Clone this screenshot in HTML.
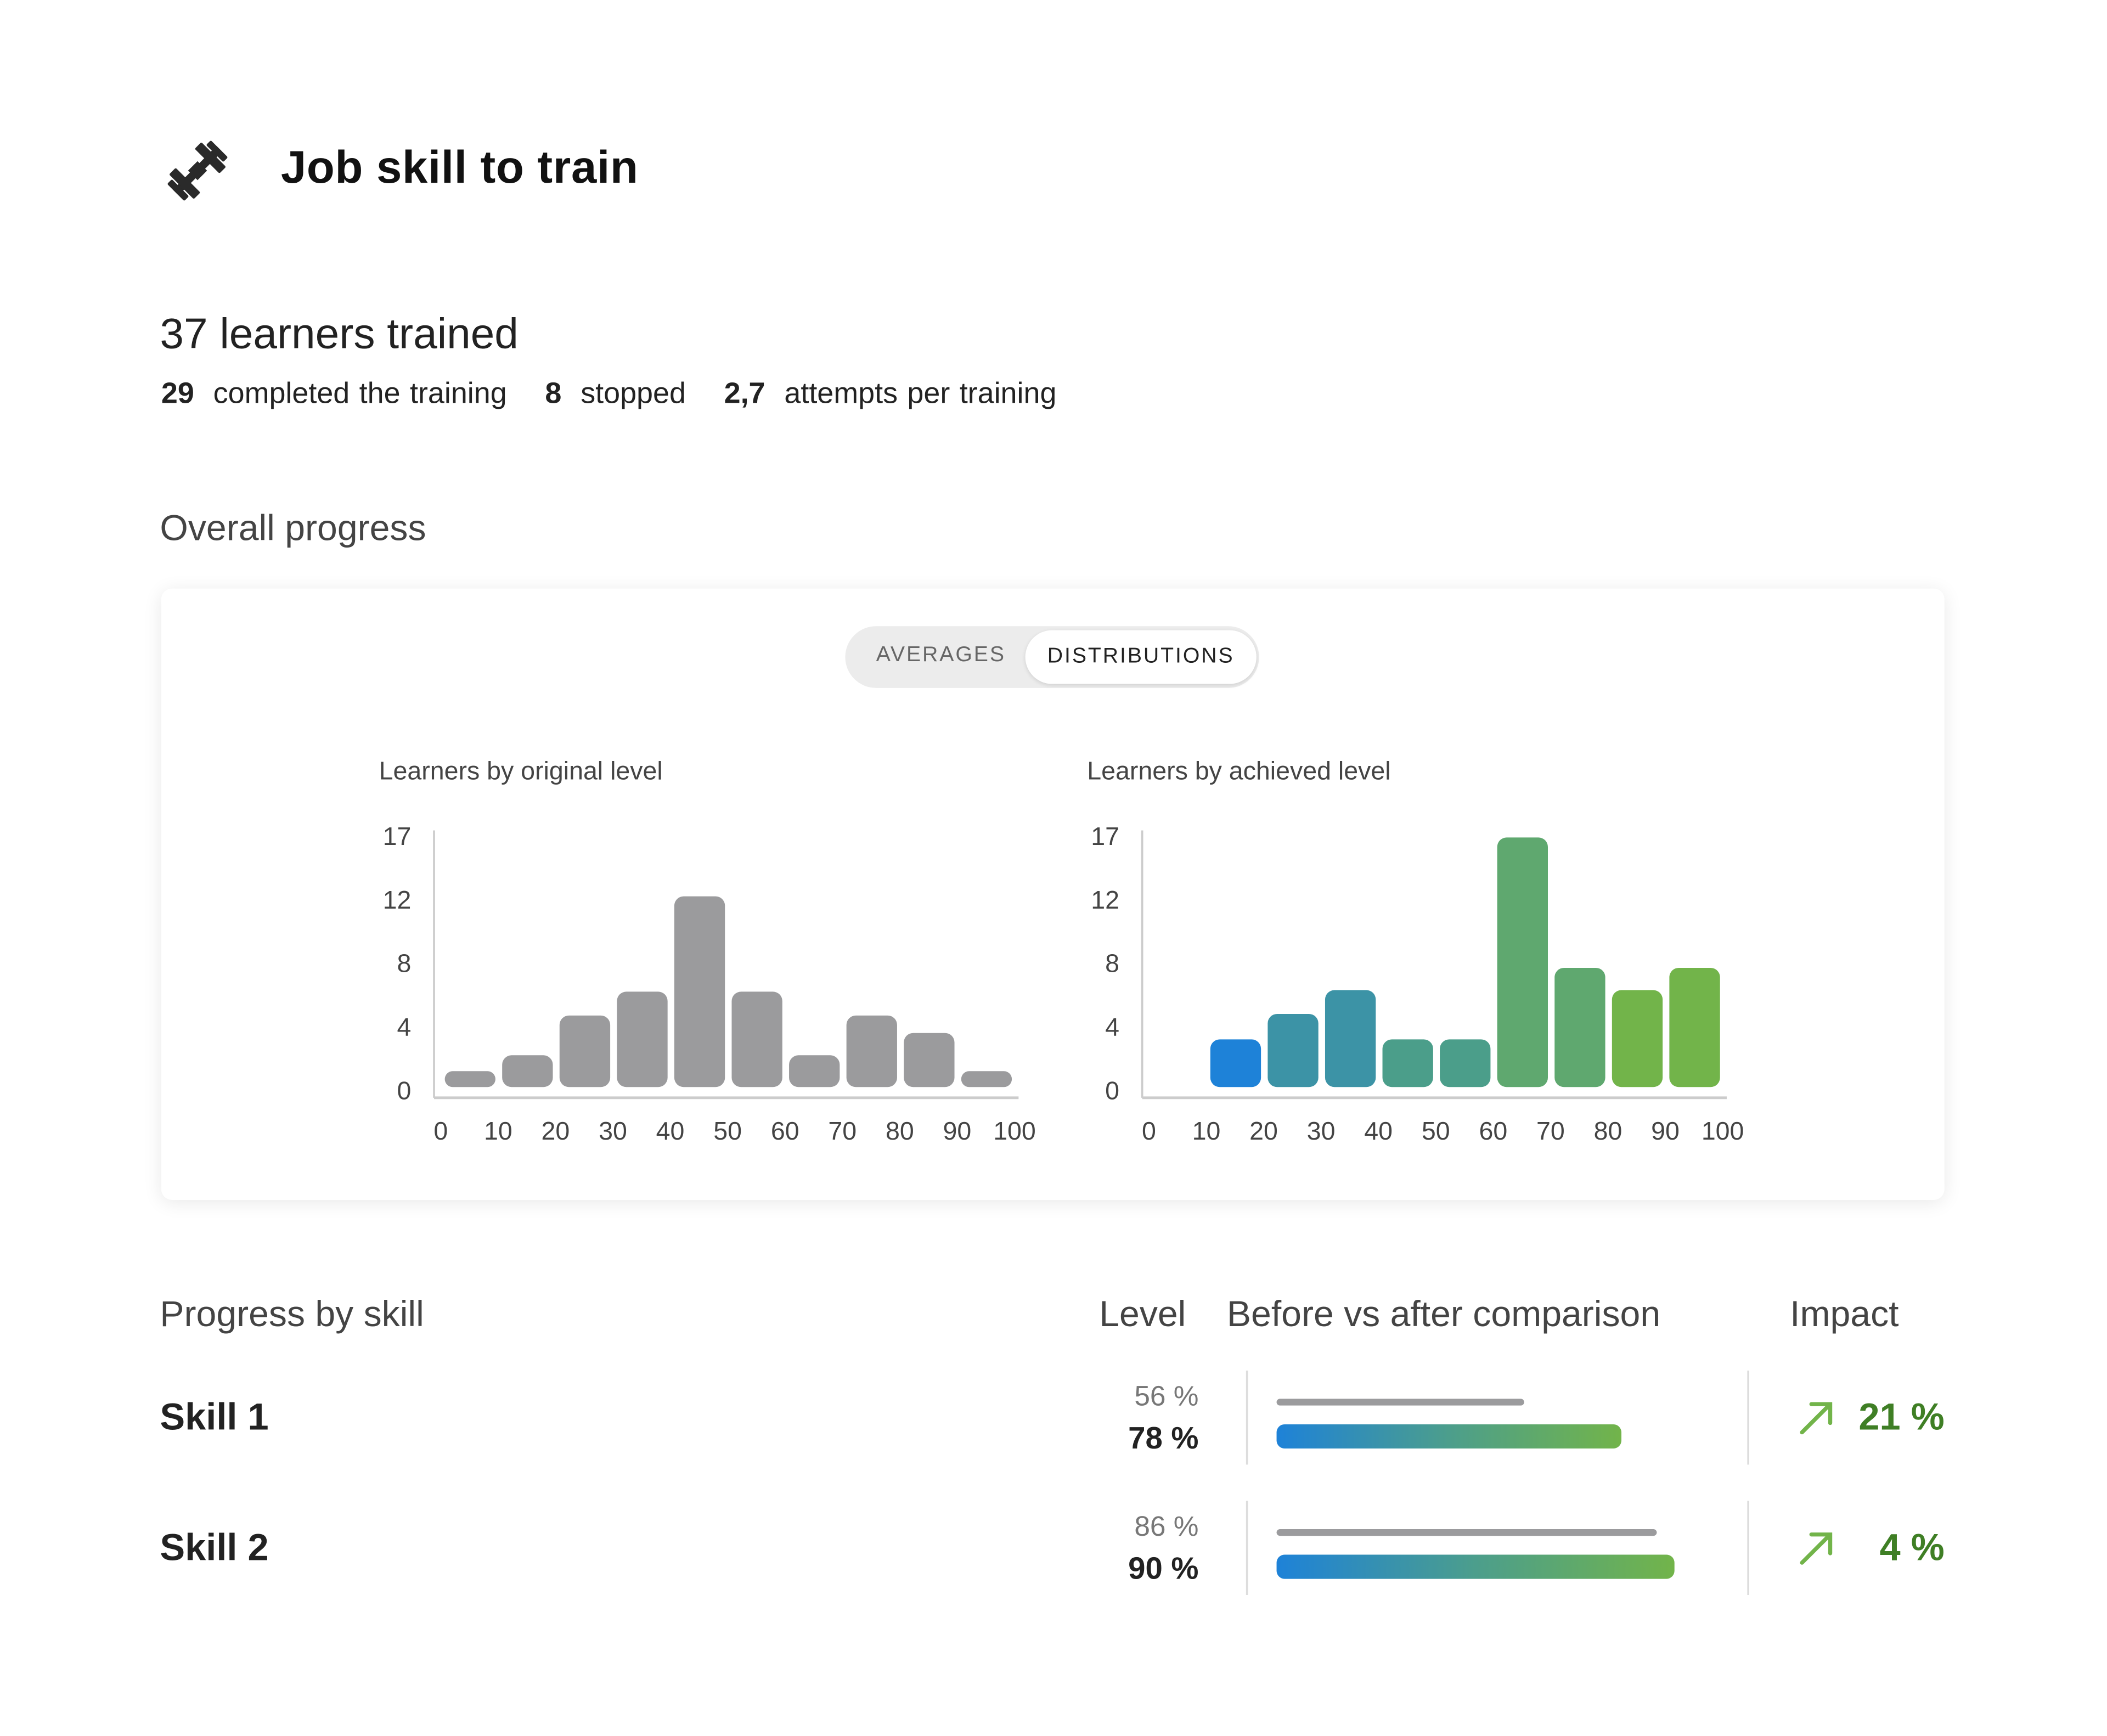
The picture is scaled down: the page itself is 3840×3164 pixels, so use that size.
<!DOCTYPE html>
<html><head><meta charset="utf-8">
<style>
html,body{margin:0;padding:0;background:#fff;width:3840px;height:3162px;overflow:hidden}
#root{position:absolute;left:0;top:0;width:1568px;height:1292px;transform:scale(2.449);transform-origin:0 0;font-family:"Liberation Sans",sans-serif;color:#222}
.abs{position:absolute;white-space:nowrap}
</style></head><body>
<div id="root">
  <svg class="abs" style="left:120px;top:100px" width="54" height="54" viewBox="0 0 54 54">
    <g transform="rotate(-45 27 27)" fill="#2a2a2a">
      <rect x="4" y="24" width="46" height="6"/>
      <rect x="10" y="14" width="7" height="26" rx="1"/>
      <rect x="37" y="14" width="7" height="26" rx="1"/>
      <rect x="4" y="18" width="5" height="18" rx="1"/>
      <rect x="45" y="18" width="5" height="18" rx="1"/>
      <rect x="22" y="22" width="10" height="10"/>
    </g>
  </svg>
  <div class="abs" style="left:209px;top:106px;font-size:34px;font-weight:bold;color:#111;letter-spacing:0.3px">Job skill to train</div>
  <div class="abs" style="left:119px;top:230px;font-size:32px;color:#222">37 learners trained</div>
  <div class="abs" style="left:120px;top:280px;font-size:22px;color:#222;word-spacing:1px"><b>29</b>&nbsp; completed the training &nbsp;&nbsp; <b>8</b>&nbsp; stopped &nbsp;&nbsp; <b>2,7</b>&nbsp; attempts per training</div>
  <div class="abs" style="left:119px;top:378px;font-size:27px;color:#444">Overall progress</div>

  <div class="abs" style="left:120px;top:438px;width:1327px;height:455px;background:#fff;border-radius:8px;box-shadow:0 2px 14px rgba(0,0,0,0.09)"></div>
  <div class="abs" style="left:629px;top:466px;width:308px;height:46px;background:#ececec;border-radius:23px"></div>
  <div class="abs" style="left:652px;top:479px;font-size:16px;letter-spacing:1.2px;color:#666">AVERAGES</div>
  <div class="abs" style="left:763px;top:469px;width:172px;height:40px;background:#fff;border-radius:20px;box-shadow:0 1px 3px rgba(0,0,0,0.12);font-size:16px;letter-spacing:1.2px;color:#222;text-align:center;line-height:40px">DISTRIBUTIONS</div>

  <svg id="charts" class="abs" style="left:0;top:0" width="1568" height="1292"></svg>

  <div class="abs" style="left:119px;top:963px;font-size:27px;color:#444">Progress by skill</div>
  <div class="abs" style="left:818px;top:963px;font-size:27px;color:#444">Level</div>
  <div class="abs" style="left:913px;top:963px;font-size:27px;color:#444">Before vs after comparison</div>
  <div class="abs" style="left:1332px;top:963px;font-size:27px;color:#444">Impact</div>
  <svg id="skills" class="abs" style="left:0;top:0" width="1568" height="1292">
    <defs><linearGradient id="grad" x1="0" x2="1"><stop offset="0" stop-color="#1e82d8"/><stop offset="0.5" stop-color="#4c9e8c"/><stop offset="1" stop-color="#72b44a"/></linearGradient></defs>
  </svg>
</div>
<script>
const NS="http://www.w3.org/2000/svg";
const categories=["0","10","20","30","40","50","60","70","80","90","100"];
const yTickLabels=["0","4","8","12","17"];
const originalValues=[1,2,4.5,6,12,6,2,4.5,3.4,1];
const achievedValues=[0,3,4.6,6.1,3,3,15.7,7.5,6.1,7.5];
const achievedColors=["#1e82d8","#1e82d8","#3c93a6","#3c93a6","#4b9e8a","#4b9e8a","#5fa86f","#5fa86f","#72b44a","#72b44a"];
const skillNames=["Skill 1","Skill 2"];
const skillBefore=[56,86];
const skillAfter=[78,90];
const skillImpact=[21,4];

function mk(parent,tag,attrs,text){const e=document.createElementNS(NS,tag);for(const k in attrs)e.setAttribute(k,attrs[k]);if(text!==undefined)e.textContent=text;parent.appendChild(e);return e;}
const svg=document.getElementById('charts');
function chart(x0,title,vals,colors,nm){
  const base=809,unit=11.83,step=42.7,left=x0+5;
  const xs=i=>left+i*step;
  const ys=v=>base-v*unit;
  let t=mk(svg,'text',{x:x0-41,y:580,'font-size':19,fill:'#444'},title);
  
  
  let a=mk(svg,'line',{x1:x0,y1:618,x2:x0,y2:817,stroke:'#ccc','stroke-width':1.5});
  
  
  let b=mk(svg,'line',{x1:x0,y1:817,x2:x0+435,y2:817,stroke:'#ccc','stroke-width':2});
  
  
  yTickLabels.forEach((l,i)=>{
    const e=mk(svg,'text',{x:x0-17,y:818-i*47.3,'font-size':19,fill:'#444','text-anchor':'end'},l);
    
    
  });
  categories.forEach((c,i)=>{
    const e=mk(svg,'text',{x:xs(i),y:848,'font-size':19,fill:'#444','text-anchor':'middle'},c);
    
    
  });
  vals.forEach((v,i)=>{
    if(v<=0)return;
    const h=v*unit;
    const r=mk(svg,'rect',{x:xs(i)+3,y:ys(v),width:step-5,height:h,rx:Math.min(7,h/2),fill:colors[i]});
    
    
  });
}
chart(323,'Learners by original level',originalValues,originalValues.map(()=>'#9b9b9d'),'original-level-chart');
chart(850,'Learners by achieved level',achievedValues,achievedColors,'achieved-level-chart');

const sk=document.getElementById('skills');
const pct=3.29;
skillNames.forEach((n,i)=>{
  const y0=1054+i*97;
  let e=mk(sk,'text',{x:119,y:y0+10,'font-size':28,fill:'#222','font-weight':'bold'},n);
  
  
  e=mk(sk,'text',{x:892,y:y0-8,'font-size':21,fill:'#777','text-anchor':'end'},skillBefore[i]+' %');
  
  
  e=mk(sk,'text',{x:892,y:y0+24,'font-size':23,fill:'#222','font-weight':'bold','text-anchor':'end'},skillAfter[i]+' %');
  
  
  e=mk(sk,'line',{x1:928,y1:y0-34,x2:928,y2:y0+36,stroke:'#ddd','stroke-width':1.5});
  
  
  e=mk(sk,'line',{x1:1301,y1:y0-34,x2:1301,y2:y0+36,stroke:'#ddd','stroke-width':1.5});
  
  
  e=mk(sk,'rect',{x:950,y:y0-13,width:skillBefore[i]*pct,height:5,rx:2.5,fill:'#9b9b9d'});
  
  
  e=mk(sk,'rect',{x:950,y:y0+6,width:skillAfter[i]*pct,height:18,rx:6,fill:'url(#grad)'});
  
  
  e=mk(sk,'path',{d:`M1341 ${y0+12} L1362 ${y0-9} M1348 ${y0-9} L1362 ${y0-9} L1362 ${y0+5}`,stroke:'#72b44a','stroke-width':3,fill:'none','stroke-linecap':'round'});
  
  
  e=mk(sk,'text',{x:1447,y:y0+10,'font-size':28,fill:'#3f7f25','font-weight':'bold','text-anchor':'end'},skillImpact[i]+' %');
  
  
});
</script>
</body></html>
